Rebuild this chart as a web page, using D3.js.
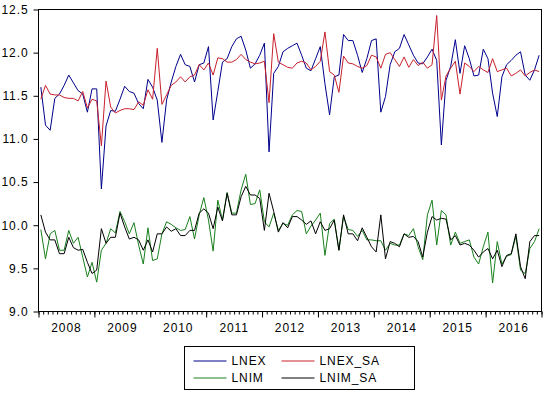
<!DOCTYPE html>
<meta charset="utf-8">
<style>
    body { margin: 0; background: #fff; }
    text {
        font-family: "Liberation Sans", Arial, sans-serif;
        font-size: 12px;
        letter-spacing: 0.9px;
        fill: #000;
    }
    .frame { fill: none; stroke: #000; stroke-width: 1px; }
    .axis path { display: none; }
    .axis line { stroke: #000; }
    .series { fill: none; stroke-width: 1px; }
</style>
<body>
<svg width="546" height="395"></svg>
</body>
<script src="https://d3js.org/d3.v7.min.js"></script>
<script>
    // monthly, 2008M01 .. 2016M12
    const years = [2008, 2009, 2010, 2011, 2012, 2013, 2014, 2015, 2016];
    const yTicks = [9.0, 9.5, 10.0, 10.5, 11.0, 11.5, 12.0, 12.5];

    const lnex = [
        11.60, 11.16, 11.10, 11.47, 11.52, 11.62, 11.74, 11.65, 11.56, 11.52, 11.31, 11.58,
        11.58, 10.42, 11.15, 11.33, 11.32, 11.46, 11.61, 11.55, 11.53, 11.41, 11.35, 11.69,
        11.60, 11.45, 10.96, 11.45, 11.66, 11.84, 11.98, 11.86, 11.84, 11.66, 11.86, 11.88,
        12.07, 11.22, 11.55, 11.89, 11.93, 12.07, 12.16, 12.19, 12.03, 11.82, 11.87, 11.97,
        12.11, 10.85, 11.76, 11.84, 12.01, 12.05, 12.08, 12.11, 11.97, 11.82, 11.79, 11.93,
        12.07, 11.64, 11.28, 11.72, 11.74, 12.21, 12.14, 12.14, 11.97, 11.77, 11.93, 12.14,
        12.16, 11.31, 11.49, 11.86, 12.01, 12.05, 12.21, 12.09, 11.97, 11.88, 11.87, 11.95,
        12.04, 11.91, 10.93, 11.68, 11.84, 12.15, 11.76, 12.08, 11.93, 11.73, 11.74, 12.04,
        11.93, 11.53, 11.26, 11.72, 11.86, 11.91, 11.97, 12.01, 11.74, 11.68, 11.80, 11.97
    ];
    const lnexSa = [
        11.46, 11.62, 11.52, 11.51, 11.51, 11.48, 11.47, 11.47, 11.44, 11.55, 11.36, 11.46,
        11.44, 10.92, 11.67, 11.37, 11.30, 11.33, 11.35, 11.35, 11.34, 11.43, 11.39, 11.57,
        11.46, 12.05, 11.40, 11.51, 11.62, 11.66, 11.72, 11.66, 11.72, 11.74, 11.86, 11.80,
        11.88, 11.74, 11.94, 11.93, 11.89, 11.89, 11.92, 11.98, 11.92, 11.89, 11.87, 11.88,
        11.90, 11.42, 12.22, 11.89, 11.86, 11.83, 11.82, 11.88, 11.90, 11.88, 11.80, 11.84,
        11.90, 12.24, 11.78, 11.74, 11.54, 11.96, 11.88, 11.87, 11.84, 11.82, 11.85, 11.97,
        11.95, 11.82, 11.98, 12.00, 11.92, 11.84, 11.95, 11.83, 11.92, 11.85, 11.89, 11.82,
        11.86, 12.43, 11.45, 11.73, 11.82, 11.90, 11.52, 11.88, 11.84, 11.78, 11.84, 11.80,
        11.77, 11.93, 11.78, 11.80, 11.82, 11.73, 11.76, 11.80, 11.73, 11.77, 11.80, 11.78
    ];
    const lnim = [
        9.95, 9.61, 9.90, 9.94, 9.71, 9.71, 9.94, 9.79, 9.86, 9.63, 9.40, 9.57,
        9.34, 9.71, 9.79, 9.96, 9.91, 10.16, 10.04, 9.90, 10.03, 9.77, 9.55, 9.97,
        9.59, 9.61, 9.90, 10.04, 10.01, 9.97, 9.94, 9.95, 10.10, 9.84, 10.12, 10.32,
        10.06, 9.70, 10.29, 10.06, 10.38, 10.14, 10.14, 10.41, 10.59, 10.24, 10.25, 10.41,
        10.04, 9.98, 10.14, 9.94, 10.02, 10.00, 10.12, 10.17, 10.16, 9.90, 9.99, 10.06,
        10.14, 9.65, 10.02, 10.07, 9.71, 10.10, 9.95, 9.94, 9.87, 9.94, 9.83, 9.83,
        9.82, 9.82, 9.71, 9.79, 9.77, 9.77, 9.90, 9.88, 9.96, 9.75, 9.60, 10.12,
        10.29, 9.77, 10.17, 10.12, 9.77, 9.92, 9.79, 9.81, 9.83, 9.63, 9.55, 9.75,
        9.92, 9.33, 9.81, 9.55, 9.64, 9.66, 9.87, 9.48, 9.44, 9.73, 9.81, 9.96
    ];
    const lnimSa = [
        10.12, 9.92, 9.83, 9.83, 9.67, 9.67, 9.86, 9.74, 9.71, 9.72, 9.57, 9.44,
        9.48, 9.96, 9.79, 9.86, 9.86, 10.14, 9.98, 9.84, 9.86, 9.83, 9.71, 9.83,
        9.69, 9.90, 9.90, 9.98, 9.93, 9.96, 9.88, 9.88, 9.94, 9.94, 10.14, 10.19,
        10.14, 9.96, 10.21, 10.05, 10.37, 10.12, 10.12, 10.33, 10.45, 10.35, 10.35, 10.31,
        9.94, 10.37, 10.16, 9.92, 10.03, 9.97, 10.10, 10.10, 10.06, 10.01, 10.05, 9.90,
        10.04, 9.94, 9.96, 10.06, 9.71, 10.12, 9.90, 9.90, 9.82, 9.97, 9.86, 9.75,
        9.69, 10.12, 9.61, 9.81, 9.79, 9.75, 9.90, 9.86, 9.87, 9.81, 9.63, 9.92,
        10.10, 10.06, 10.08, 10.07, 9.83, 9.88, 9.77, 9.79, 9.77, 9.71, 9.63, 9.69,
        9.73, 9.61, 9.71, 9.52, 9.65, 9.67, 9.90, 9.52, 9.38, 9.81, 9.88, 9.88
    ];

    const seriesNames = ["LNEX", "LNEX_SA", "LNIM", "LNIM_SA"];
    const seriesColors = ["#00008c", "#c8202c", "#18801c", "#000000"];
    const seriesData = [lnex, lnexSa, lnim, lnimSa];

    const svg = d3.select("svg");
    const plotLeft = 38.5, plotRight = 541.5, plotTop = 9.5, plotBottom = 311.5;
    const nObs = years.length * 12;

    const x = d3.scaleLinear().domain([0, nObs]).range([plotLeft, plotRight]);
    const y = d3.scaleLinear().domain([9, 12.5]).range([plotBottom, plotTop]);

    // series
    const line = d3.line()
        .x((d, i) => x(i + 0.5))
        .y(d => y(d));

    svg.append("g")
        .selectAll("path")
        .data(seriesData)
        .enter().append("path")
        .attr("class", "series")
        .attr("stroke", (d, i) => seriesColors[i])
        .attr("d", line);

    // frame
    svg.append("rect")
        .attr("class", "frame")
        .attr("x", plotLeft).attr("y", plotTop)
        .attr("width", plotRight - plotLeft).attr("height", plotBottom - plotTop);

    // y axis
    svg.append("g")
        .attr("class", "axis")
        .attr("transform", `translate(${plotLeft},0)`)
        .call(d3.axisLeft(y).tickValues(yTicks).tickFormat(d3.format(".1f"))
            .tickSize(5).tickPadding(5))
        .call(g => g.attr("font-size", null).attr("font-family", null));

    // x axis: month minor ticks, year major ticks
    svg.append("g")
        .attr("class", "axis")
        .attr("transform", `translate(0,${plotBottom})`)
        .call(d3.axisBottom(x).tickValues(d3.range(0, nObs + 1)).tickSize(3).tickFormat(""));

    svg.append("g")
        .attr("class", "axis")
        .attr("transform", `translate(0,${plotBottom})`)
        .call(d3.axisBottom(x).tickValues(d3.range(0, nObs + 1, 12)).tickSize(6).tickFormat(""));

    svg.append("g")
        .selectAll("text")
        .data(years)
        .enter().append("text")
        .attr("x", (d, i) => x(i * 12 + 6))
        .attr("y", 332)
        .attr("text-anchor", "middle")
        .text(d => d);

    // legend
    const legend = svg.append("g").attr("transform", "translate(184.5,346.5)");
    legend.append("rect")
        .attr("class", "frame")
        .attr("width", 230).attr("height", 43);

    const item = legend.selectAll("g")
        .data(seriesNames)
        .enter().append("g")
        .attr("transform", (d, i) => `translate(${(i % 2) * 88 + 9},${Math.floor(i / 2) * 17 + 14.5})`);

    item.append("line")
        .attr("x1", 0).attr("x2", 33)
        .attr("stroke", (d, i) => seriesColors[i]);

    item.append("text")
        .attr("x", 38)
        .attr("dy", "0.36em")
        .text(d => d);
</script>
